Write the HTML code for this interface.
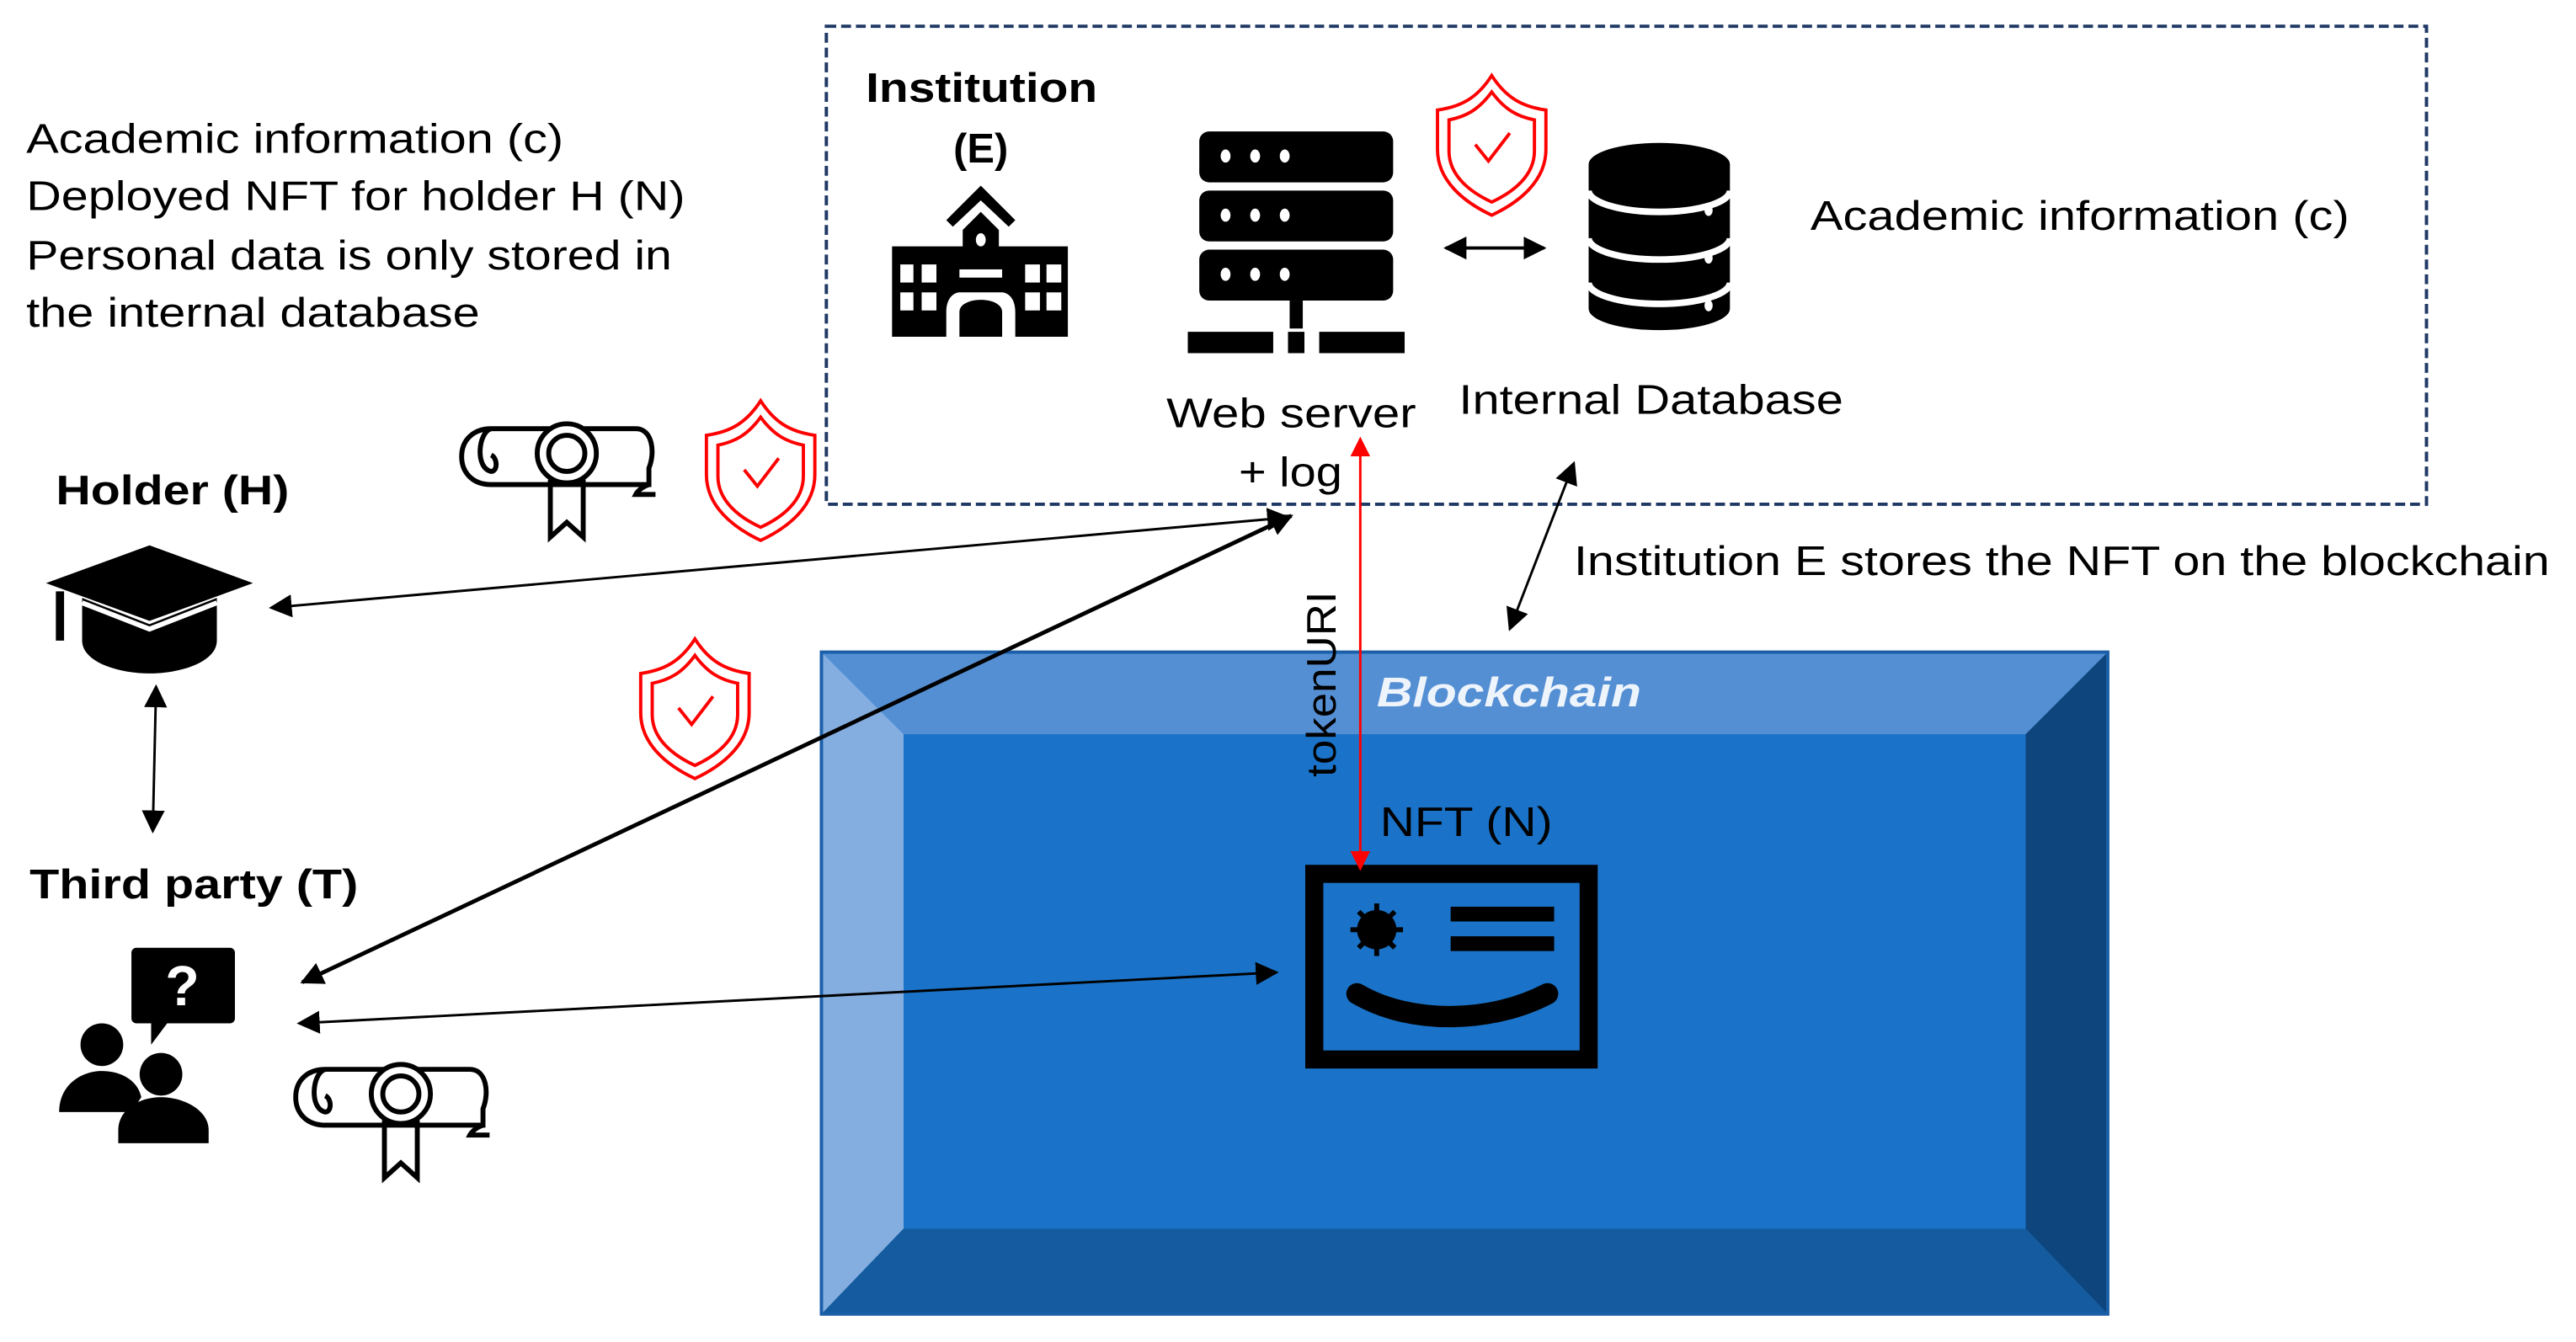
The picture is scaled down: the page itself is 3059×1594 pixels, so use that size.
<!DOCTYPE html>
<html><head><meta charset="utf-8"><style>
html,body{margin:0;padding:0;background:#fff}
svg{display:block}
text{font-family:"Liberation Sans",Arial,sans-serif}
</style></head><body>
<svg width="3059" height="1594" viewBox="0 0 1568 817" preserveAspectRatio="none" xmlns="http://www.w3.org/2000/svg">
<defs>
<marker id="ah" viewBox="0 0 10 10" refX="9" refY="5" markerWidth="9" markerHeight="9" markerUnits="userSpaceOnUse" orient="auto-start-reverse"><path d="M0,0 L10,5 L0,10Z" fill="#000"/></marker>
<marker id="ah2" viewBox="0 0 10 10" refX="9" refY="5" markerWidth="14" markerHeight="14" markerUnits="userSpaceOnUse" orient="auto-start-reverse"><path d="M0,0 L10,5 L0,10Z" fill="#000"/></marker>
<marker id="ahr" viewBox="0 0 10 10" refX="9" refY="5" markerWidth="12" markerHeight="12" markerUnits="userSpaceOnUse" orient="auto-start-reverse"><path d="M0,0 L10,5 L0,10Z" fill="#f00"/></marker>
<g id="shield" fill="none" stroke="#f00" stroke-width="2">
<path d="M35,0 C44,14 54,19 68,21 L68,45 C68,64 52,77 35,85 C18,77 2,64 2,45 L2,21 C16,19 26,14 35,0Z"/>
<path d="M35,10 C43,21 51,25 61,27 L61,46 C61,61 48,71 35,77 C22,71 9,61 9,46 L9,27 C19,25 27,21 35,10Z"/>
<path d="M25,42 L33,52 L46,35"/>
</g>
<g id="dipl" fill="none" stroke="#000" stroke-width="3">
<path d="M20,6 L108,6 C118,6 120,20 116,30 L116,40 L20,40 C8,40 2,32 2,23 C2,12 10,6 20,6Z"/>
<path d="M20,6 C12,8 10,30 20,32 C24,32 24,24 20,22"/>
<path d="M116,40 C110,42 108,46 108,46 L120,46"/>
<circle cx="66" cy="21" r="18" fill="#fff"/>
<circle cx="66" cy="21" r="11"/>
<path d="M56,37 L56,72 L66,63 L76,72 L76,37"/>
</g>
</defs>

<rect x="503" y="16" width="974" height="291" fill="none" stroke="#1f3864" stroke-width="2" stroke-dasharray="6,3"/>

<g font-size="25" fill="#000">
<text x="16" y="93" textLength="327" lengthAdjust="spacingAndGlyphs">Academic information (c)</text>
<text x="16" y="128" textLength="401" lengthAdjust="spacingAndGlyphs">Deployed NFT  for holder H  (N)</text>
<text x="16" y="164" textLength="393" lengthAdjust="spacingAndGlyphs">Personal data is only stored in</text>
<text x="16" y="199" textLength="276" lengthAdjust="spacingAndGlyphs">the internal database</text>
</g>

<text x="527" y="62" font-size="25" font-weight="bold" textLength="141" lengthAdjust="spacingAndGlyphs">Institution</text>
<text x="597" y="99" font-size="25" font-weight="bold" text-anchor="middle">(E)</text>

<!-- school icon -->
<g fill="#000">
<path d="M576,134 L597,113 L618,134 L614,138 L597,122 L580,138Z"/>
<path d="M586,140 L597,129 L608,140 L608,150 L650,150 L650,205 L618,205 L618,190 C618,180 612,178 610,178 L584,178 C582,178 576,180 576,190 L576,205 L543,205 L543,150 L586,150Z"/>
</g>
<g fill="#fff">
<ellipse cx="597" cy="146" rx="3" ry="4"/>
<rect x="548" y="161" width="8" height="11"/><rect x="561" y="161" width="9" height="11"/><rect x="584" y="164" width="26" height="5"/><rect x="624" y="161" width="9" height="11"/><rect x="637" y="161" width="9" height="11"/>
<rect x="548" y="178" width="8" height="11"/><rect x="561" y="178" width="9" height="11"/><rect x="624" y="178" width="9" height="11"/><rect x="637" y="178" width="9" height="11"/>
</g>
<path d="M584,205 L584,190 C584,180 610,180 610,190 L610,205Z" fill="#000"/>

<!-- server -->
<g fill="#000">
<rect x="730" y="80" width="118" height="31" rx="6"/>
<rect x="730" y="116" width="118" height="31" rx="6"/>
<rect x="730" y="152" width="118" height="31" rx="6"/>
<rect x="785" y="183" width="8" height="17"/>
<rect x="723" y="202" width="52" height="13"/><rect x="784" y="202" width="10" height="13"/><rect x="803" y="202" width="52" height="13"/>
</g>
<g fill="#fff">
<ellipse cx="746" cy="95" rx="3" ry="4"/><ellipse cx="764" cy="95" rx="3" ry="4"/><ellipse cx="782" cy="95" rx="3" ry="4"/>
<ellipse cx="746" cy="131" rx="3" ry="4"/><ellipse cx="764" cy="131" rx="3" ry="4"/><ellipse cx="782" cy="131" rx="3" ry="4"/>
<ellipse cx="746" cy="167" rx="3" ry="4"/><ellipse cx="764" cy="167" rx="3" ry="4"/><ellipse cx="782" cy="167" rx="3" ry="4"/>
</g>

<use href="#shield" x="873" y="46"/>
<line x1="880" y1="151" x2="940" y2="151" stroke="#000" stroke-width="2" marker-start="url(#ah2)" marker-end="url(#ah2)"/>

<!-- database -->
<g>
<path d="M967,100 A43,13 0 0 1 1053,100 L1053,188 A43,13 0 0 1 967,188Z" fill="#000"/>
<path d="M967,116 A43,13 0 0 0 1053,116" fill="none" stroke="#fff" stroke-width="4"/>
<path d="M967,145 A43,13 0 0 0 1053,145" fill="none" stroke="#fff" stroke-width="4"/>
<path d="M967,172 A43,13 0 0 0 1053,172" fill="none" stroke="#fff" stroke-width="4"/>
<g fill="#fff"><ellipse cx="1040" cy="128" rx="2.5" ry="3.5"/><ellipse cx="1040" cy="157" rx="2.5" ry="3.5"/><ellipse cx="1040" cy="186" rx="2.5" ry="3.5"/></g>
</g>

<text x="1102" y="140" font-size="25" textLength="328" lengthAdjust="spacingAndGlyphs">Academic information (c)</text>
<text x="710" y="260" font-size="25" textLength="152" lengthAdjust="spacingAndGlyphs">Web server</text>
<text x="754" y="296" font-size="25" textLength="63" lengthAdjust="spacingAndGlyphs">+ log</text>
<text x="888" y="252" font-size="25" textLength="234" lengthAdjust="spacingAndGlyphs">Internal Database</text>

<text x="34" y="307" font-size="25" font-weight="bold" textLength="142" lengthAdjust="spacingAndGlyphs">Holder (H)</text>
<text x="18" y="547" font-size="25" font-weight="bold" textLength="200" lengthAdjust="spacingAndGlyphs">Third party (T)</text>

<!-- grad cap -->
<g fill="#000">
<path d="M28,355 L91,332 L154,355 L91,378Z"/>
<path d="M50,364 L91,380 L132,364 L132,390 C132,403 110,410 91,410 C72,410 50,403 50,390Z"/>
<rect x="34" y="360" width="5" height="30"/>
</g>
<path d="M50,367 L91,383 L132,367" stroke="#fff" stroke-width="3" fill="none"/>

<use href="#dipl" x="279" y="255"/>
<use href="#shield" x="428" y="244"/>
<use href="#shield" x="388" y="389"/>

<!-- people icon -->
<g fill="#000">
<rect x="80" y="577" width="63" height="46" rx="3"/>
<path d="M92,620 L92,636 L104,620Z"/>
<circle cx="62" cy="636" r="13"/>
<path d="M36,677 C36,660 50,652 62,652 C74,652 84,658 86,668 L80,677Z"/>
<circle cx="98" cy="654" r="13"/>
<path d="M72,696 L72,688 C72,676 84,668 98,668 C112,668 127,676 127,688 L127,696Z"/>
</g>
<text x="111" y="612" font-size="34" font-weight="bold" fill="#fff" text-anchor="middle">?</text>
<use href="#dipl" x="178" y="645"/>

<!-- blockchain -->
<g>
<rect x="500" y="397" width="783" height="403" fill="#1a73c8"/>
<path d="M500,397 L1283,397 L1233,447 L550,447Z" fill="#558fd3"/>
<path d="M500,397 L550,447 L550,748 L500,800Z" fill="#85aee0"/>
<path d="M1283,397 L1283,800 L1233,748 L1233,447Z" fill="#0e457d"/>
<path d="M500,800 L550,748 L1233,748 L1283,800Z" fill="#145c9f"/>
<rect x="500" y="397" width="783" height="403" fill="none" stroke="#1a5fa8" stroke-width="2"/>
</g>
<text x="838" y="430" font-size="25" font-weight="bold" font-style="italic" fill="#eef4fc" textLength="161" lengthAdjust="spacingAndGlyphs">Blockchain</text>
<text x="840" y="509" font-size="25" textLength="105" lengthAdjust="spacingAndGlyphs">NFT (N)</text>

<!-- NFT card -->
<rect x="800" y="532" width="167" height="113" fill="none" stroke="#000" stroke-width="11"/>
<circle cx="838" cy="566" r="12" fill="#000"/>
<g stroke="#000" stroke-width="3"><line x1="838" y1="550" x2="838" y2="582"/><line x1="822" y1="566" x2="854" y2="566"/><line x1="827" y1="555" x2="849" y2="577"/><line x1="849" y1="555" x2="827" y2="577"/></g>
<rect x="883" y="552" width="63" height="9" fill="#000"/>
<rect x="883" y="570" width="63" height="9" fill="#000"/>
<path d="M826,605 C860,625 910,622 942,605" fill="none" stroke="#000" stroke-width="13" stroke-linecap="round"/>

<!-- connectors -->
<line x1="784" y1="315" x2="165" y2="370" stroke="#000" stroke-width="1.5" marker-start="url(#ah2)" marker-end="url(#ah2)"/>
<line x1="786" y1="314" x2="184" y2="598" stroke="#000" stroke-width="2.5" marker-start="url(#ah2)" marker-end="url(#ah2)"/>
<line x1="95" y1="418" x2="93" y2="506" stroke="#000" stroke-width="1.5" marker-start="url(#ah2)" marker-end="url(#ah2)"/>
<line x1="182" y1="623" x2="777" y2="592" stroke="#000" stroke-width="1.5" marker-start="url(#ah2)" marker-end="url(#ah2)"/>
<line x1="958" y1="282" x2="919" y2="383" stroke="#000" stroke-width="1.5" marker-start="url(#ah2)" marker-end="url(#ah2)"/>
<line x1="828" y1="267" x2="828" y2="529" stroke="#f00" stroke-width="1.5" marker-start="url(#ahr)" marker-end="url(#ahr)"/>

<text transform="translate(813,473) rotate(-90)" font-size="25" textLength="113" lengthAdjust="spacingAndGlyphs">tokenURI</text>
<text x="958" y="350" font-size="25" textLength="594" lengthAdjust="spacingAndGlyphs">Institution E stores the NFT  on the blockchain</text>
</svg>
</body></html>
